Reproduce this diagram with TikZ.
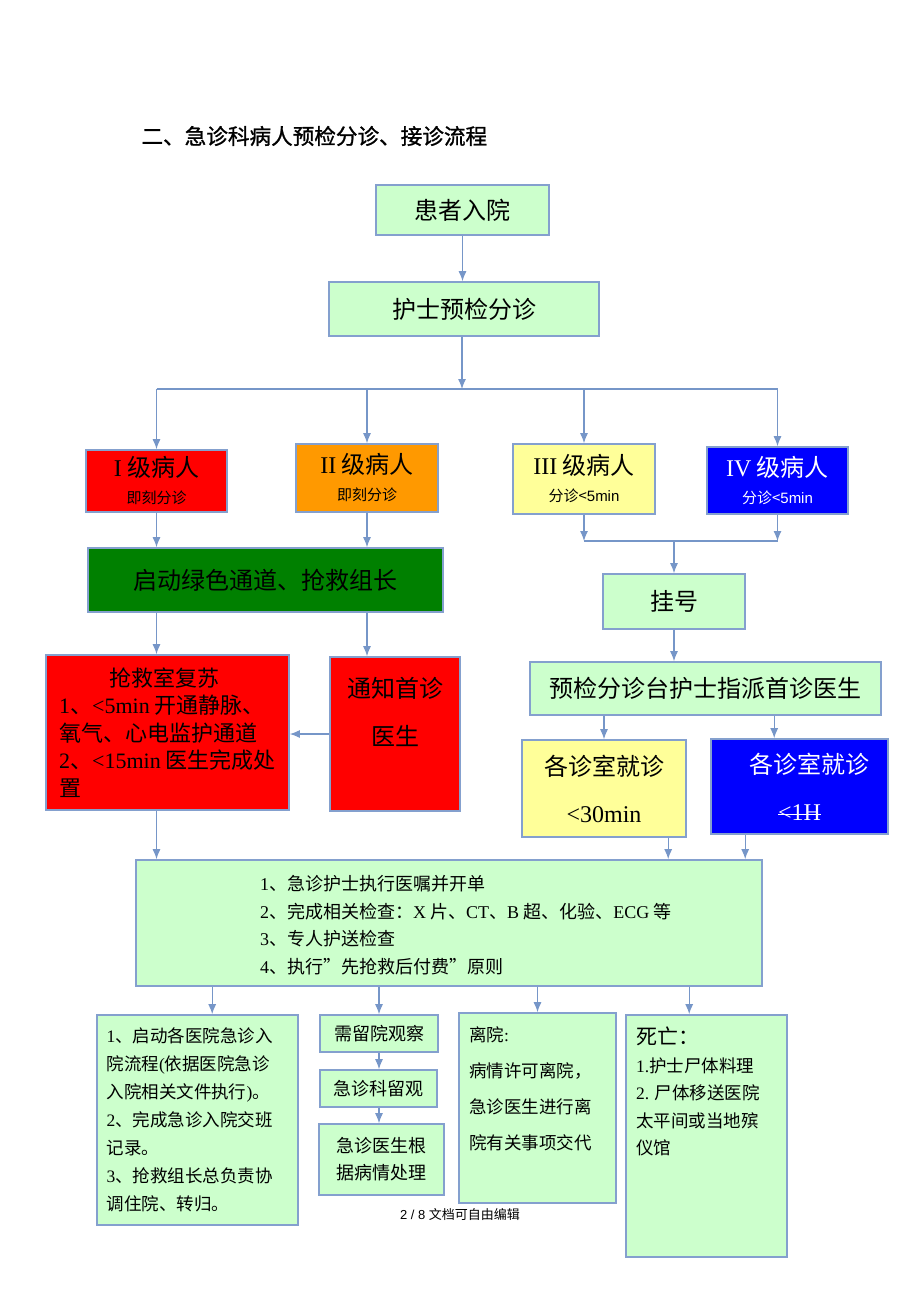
\documentclass[tikz,border=0pt]{standalone}
\usepackage{fontspec}
\setmainfont{Noto Sans CJK SC}
\newfontfamily\lat{Liberation Serif}
\newfontfamily\ari{Liberation Sans}
\newfontfamily\ttlfont[FakeBold=1.2]{Noto Sans CJK SC}
\usetikzlibrary{arrows.meta,calc}
\newcommand{\crossout}[1]{\setbox0\hbox{#1}\rlap{\rule[0.3\ht0]{\wd0}{1.2pt}}\box0}
\definecolor{paleg}{RGB}{204,255,204}
\definecolor{boxline}{RGB}{132,160,206}
\definecolor{flowline}{RGB}{118,150,200}
\definecolor{lvred}{RGB}{255,0,0}
\definecolor{lvorange}{RGB}{255,153,0}
\definecolor{lvyellow}{RGB}{255,255,153}
\definecolor{lvblue}{RGB}{0,0,255}
\definecolor{lvgreen}{RGB}{0,128,0}
\tikzset{
         box/.style={draw=boxline,line width=1.6pt,fill=paleg,inner sep=0pt,align=center,
                     font=\fontsize{24}{27}\selectfont},
         dims/.style 2 args={minimum width=#1pt,minimum height=#2pt},
         txt/.style={inner sep=0pt,align=left},
         wire/.style={draw=flowline,line width=1.2pt},
         flow/.style={wire,-{Latex[length=10pt,width=8pt]}}
        }

\begin{document}
\begin{tikzpicture}[x=1pt,y=-1pt]
      \useasboundingbox (0,0) rectangle (920,1302); % page
      \node[anchor=west] (title) at (138,136) {\ttlfont\fontsize{21.6}{22}\selectfont 二、急诊科病人预检分诊、接诊流程}; % heading
      \node[box,dims={173}{50}] (admit) at (462.5,210) {患者入院};
      \node[box,dims={270}{54}] (triage) at (464,309) {护士预检分诊};
      % four levels
      \node[box,dims={141}{62},fill=lvred] (lvlI) at (156.5,481) {{\lat I} 级病人\\{\fontsize{15}{27}\selectfont 即刻分诊}};
      \node[box,dims={142}{68},fill=lvorange] (lvlII) at (367,478) {{\lat II} 级病人\\{\fontsize{15}{27}\selectfont 即刻分诊}};
      \node[box,dims={142}{70},fill=lvyellow] (lvlIII) at (584,479) {{\lat III} 级病人\\{\fontsize{15}{27}\selectfont 分诊<{\ari 5min}}};
      \node[box,dims={141}{67},fill=lvblue,text=white] (lvlIV) at (777.5,480.5) {{\lat IV} 级病人\\{\fontsize{15}{27}\selectfont 分诊<{\ari 5min}}};
      \node[box,dims={355}{64},fill=lvgreen] (green) at (265.5,580) {启动绿色通道、抢救组长};
      \node[box,dims={142}{55}] (reg) at (674,601.5) {挂号};
      \node[box,dims={351}{53}] (assign) at (705.5,688.5) {预检分诊台护士指派首诊医生};
      % red branch
      \node[box,dims={243}{155},fill=lvred] (rescue) at (167.5,732.5) {};
      \node[txt,anchor=west,font=\fontsize{22}{27.5}\selectfont] (rescuetxt) at (59,732.5)
           {\hspace*{50pt}抢救室复苏\\{\lat 1}、{\lat <5min} 开通静脉、\\氧气、心电监护通道\\{\lat 2}、{\lat <15min} 医生完成处\\置};
      \node[box,dims={130}{154},fill=lvred] (notify) at (395,734) {};
      \node[txt,align=center,font=\fontsize{24}{27}\selectfont] (notifytxt) at (395,712) {通知首诊\\[21pt]医生};
      % rooms
      \node[box,dims={164}{97},fill=lvyellow] (roomY) at (604,788.5) {各诊室就诊\\[20pt]{\lat <30min}};
      \node[box,dims={177}{95},fill=lvblue,text=white] (roomB) at (799.5,786.5) {\hspace*{20pt}各诊室就诊\\[20pt]{\lat\crossout{<1H}}};
      % orders
      \node[box,dims={626}{126}] (orders) at (449,923) {};
      \node[txt,anchor=west,font=\fontsize{18}{27.5}\selectfont] (orderstxt) at (260,925)
           {{\lat 1}、急诊护士执行医嘱并开单\\{\lat 2}、完成相关检查：{\lat X} 片、{\lat CT}、{\lat B} 超、化验、{\lat ECG} 等\\{\lat 3}、专人护送检查\\{\lat 4}、执行”先抢救后付费”原则};
      % outcomes
      \node[box,dims={201}{210},text width=182pt,align=left,font=\fontsize{17.5}{28}\selectfont] (admitin) at (197.5,1120)
           {{\lat 1}、启动各医院急诊入\\院流程{\lat (}依据医院急诊\\入院相关文件执行{\lat )}。\\{\lat 2}、完成急诊入院交班\\记录。\\{\lat 3}、抢救组长总负责协\\调住院、转归。};
      \node[box,dims={118}{37},font=\fontsize{18}{22}\selectfont] (observe) at (379,1033.5) {需留院观察};
      \node[box,dims={117}{37},font=\fontsize{18}{22}\selectfont] (stay) at (378.5,1088.5) {急诊科留观};
      \node[box,dims={125}{71},font=\fontsize{18}{27}\selectfont] (treat) at (381.5,1159.5) {急诊医生根\\据病情处理};
      \node[box,dims={157}{190}] (leave) at (537.5,1108) {};
      \node[txt,anchor=north west,font=\fontsize{17.5}{36}\selectfont] (leavetxt) at (469,1026)
           {离院{\lat :}\\病情许可离院，\\急诊医生进行离\\院有关事项交代};
      \node[box,dims={161}{242}] (death) at (706.5,1136) {};
      \node[txt,anchor=north west,font=\fontsize{17.5}{27.5}\selectfont] (deathtxt) at (636,1027)
           {{\fontsize{21}{27.5}\selectfont 死亡：}\\{\lat 1.}护士尸体料理\\{\lat 2.} 尸体移送医院\\太平间或当地殡\\仪馆};
      \node[inner sep=0pt] (foot) at (460,1215) {\fontsize{13}{13}\selectfont{\ari 2 / 8 }文档可自由编辑}; % page footer
      % connectors
      \coordinate (bar) at (462,389);
      \coordinate (join) at (674,541);
      \draw[flow] (admit.south) -- (admit.south |- triage.north);
      \draw[flow] (triage.south -| bar) -- (bar);
      \draw[wire] (bar -| lvlI) -- (bar -| lvlIV); % split bar
      \foreach \lv in {lvlI,lvlII,lvlIII,lvlIV} \draw[flow] (bar -| \lv) -- (\lv.north);
      \draw[flow] (lvlI.south) -- (lvlI.south |- green.north);
      \draw[flow] (lvlII.south) -- (lvlII.south |- green.north);
      \draw[flow] (lvlIII.south) -- (lvlIII.south |- join);
      \draw[flow] (lvlIV.south) -- (lvlIV.south |- join);
      \draw[wire] (join -| lvlIII) -- (join -| lvlIV); % join bar
      \draw[flow] (join) -- (join |- reg.north);
      \draw[flow] (reg.south) -- (reg.south |- assign.north);
      \draw[flow] (assign.south -| roomY) -- (roomY.north);
      \draw[flow] ([xshift=64pt]roomB.north west |- assign.south) -- ([xshift=64pt]roomB.north west);
      \draw[flow] (lvlI |- green.south) -- (lvlI |- rescue.north);
      \draw[flow] (lvlII |- green.south) -- (lvlII |- notify.north);
      \draw[flow] (notify.west) -- (notify.west -| rescue.east);
      \draw[flow] (lvlI |- rescue.south) -- (lvlI |- orders.north);
      \draw[flow] ([xshift=147pt]roomY.south west) -- ([xshift=147pt]roomY.south west |- orders.north);
      \draw[flow] ([xshift=35pt]roomB.south west) -- ([xshift=35pt]roomB.south west |- orders.north);
      \draw[flow] ([xshift=116pt]admitin.north west |- orders.south) -- ([xshift=116pt]admitin.north west);
      \draw[flow] (observe |- orders.south) -- (observe.north);
      \draw[flow] (leave |- orders.south) -- (leave.north);
      \draw[flow] ([xshift=64pt]death.north west |- orders.south) -- ([xshift=64pt]death.north west);
      \draw[flow] (observe.south) -- (observe.south |- stay.north);
      \draw[flow] (observe.south |- stay.south) -- (observe.south |- treat.north);
\end{tikzpicture}
\end{document}
